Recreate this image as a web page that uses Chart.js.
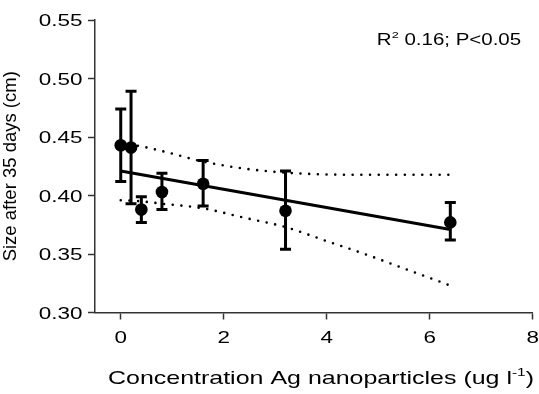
<!DOCTYPE html>
<html>
<head>
<meta charset="utf-8">
<script src="https://cdn.jsdelivr.net/npm/chart.js@4.4.1/dist/chart.umd.min.js"></script>
<style>
  html, body { margin: 0; padding: 0; background: #fff; }
  #grafico { display: block; }
</style>
</head>
<body>
<canvas id="grafico" width="539" height="394"></canvas>
<script>
// ========== DADOS ==========
const concentracoes = [0, 0.2, 0.4, 0.8, 1.6, 3.2, 6.4];
const tamanhoMedio  = [0.443, 0.441, 0.388, 0.403, 0.410, 0.387, 0.377];
const erroSuperior  = [0.474, 0.489, 0.399, 0.419, 0.430, 0.421, 0.394];
const erroInferior  = [0.412, 0.393, 0.377, 0.388, 0.391, 0.354, 0.362];

// linha de regressão
const regressaoX = [0, 6.4];
const regressaoY = [0.421, 0.371];

// intervalo de confiança (pontilhado)
const bandaX        = [0, 0.4, 0.8, 1.6, 2.4, 3.2, 4.0, 4.8, 5.6, 6.4];
const bandaSuperior = [0.445, 0.442, 0.438, 0.429, 0.423, 0.4195, 0.418, 0.4177, 0.4177, 0.4178];
const bandaInferior = [0.396, 0.395, 0.393, 0.389, 0.381, 0.373, 0.361, 0.349, 0.336, 0.323];

const ticksX = [0, 2, 4, 6, 8];
const ticksY = [0.30, 0.35, 0.40, 0.45, 0.50, 0.55];

const tituloX = [{ t: 'Concentration Ag nanoparticles (ug l' }, { t: '-1', sup: true }, { t: ')' }];
const tituloY = 'Size after 35 days (cm)';
const anotacao = [{ t: 'R' }, { t: '2', sup: true }, { t: ' 0.16; P<0.05' }];

const FONTE = "'Liberation Sans', Arial, sans-serif";
const ESTICAR = 1.32;   // o texto horizontal do original é mais largo
const COR_TEXTO = '#000';
const COR_EIXO = '#333';

// ========== TEXTO ==========
function textoEsticado(ctx, partes, x, yBase, alinhamento, tamanho, esticar) {
    ctx.save();
    let largura = 0;
    partes.forEach(p => {
        ctx.font = `${p.sup ? tamanho * 0.62 : tamanho}px ${FONTE}`;
        p.w = ctx.measureText(p.t).width;
        largura += p.w;
    });
    let x0 = x;
    if (alinhamento === 'center') x0 = x - largura * esticar / 2;
    if (alinhamento === 'right') x0 = x - largura * esticar;
    ctx.translate(x0, yBase);
    ctx.scale(esticar, 1);
    ctx.fillStyle = COR_TEXTO;
    ctx.textBaseline = 'alphabetic';
    ctx.textAlign = 'left';
    let cx = 0;
    partes.forEach(p => {
        ctx.font = `${p.sup ? tamanho * 0.62 : tamanho}px ${FONTE}`;
        ctx.fillText(p.t, cx, p.sup ? -tamanho * 0.42 : 0);
        cx += p.w;
    });
    ctx.restore();
}

const pluginTextos = {
    id: 'pluginTextos',
    afterDraw(chart) {
        const ctx = chart.ctx;
        const sx = chart.scales.x;
        const sy = chart.scales.y;
        const area = chart.chartArea;

        // rótulos do eixo y
        sy.ticks.forEach(tk => {
            const py = sy.getPixelForValue(tk.value);
            textoEsticado(ctx, [{ t: tk.value.toFixed(2) }], 82.5, py + 6.1, 'right', 17, ESTICAR);
        });
        // rótulos do eixo x
        sx.ticks.forEach(tk => {
            const px = sx.getPixelForValue(tk.value);
            textoEsticado(ctx, [{ t: String(tk.value) }], px, 343, 'center', 17, ESTICAR);
        });

        textoEsticado(ctx, tituloX, 321, 383.5, 'center', 18.5, 1.35);
        textoEsticado(ctx, anotacao, 449, 45, 'center', 16, 1.28);

        // título do eixo y (girado)
        ctx.save();
        ctx.translate(15.8, (area.top + area.bottom) / 2);
        ctx.rotate(-Math.PI / 2);
        ctx.font = `18.5px ${FONTE}`;
        ctx.fillStyle = COR_TEXTO;
        ctx.textAlign = 'center';
        ctx.textBaseline = 'alphabetic';
        ctx.fillText(tituloY, 0, 0);
        ctx.restore();
    }
};

// ========== BARRAS DE ERRO ==========
const pluginErros = {
    id: 'pluginErros',
    afterDatasetsDraw(chart) {
        const ctx = chart.ctx;
        const sx = chart.scales.x;
        const sy = chart.scales.y;
        ctx.save();
        ctx.strokeStyle = '#000';
        ctx.lineWidth = 3;
        ctx.lineCap = 'butt';
        concentracoes.forEach((c, i) => {
            const px = sx.getPixelForValue(c);
            const top = sy.getPixelForValue(erroSuperior[i]);
            const bot = sy.getPixelForValue(erroInferior[i]);
            ctx.beginPath();
            ctx.moveTo(px, top);
            ctx.lineTo(px, bot);
            ctx.moveTo(px - 5.5, top);
            ctx.lineTo(px + 5.5, top);
            ctx.moveTo(px - 5.5, bot);
            ctx.lineTo(px + 5.5, bot);
            ctx.stroke();
        });
        ctx.restore();
    }
};

// ========== GRÁFICO ==========
const pares = (xs, ys) => xs.map((x, i) => ({ x: x, y: ys[i] }));

const estiloPontilhado = {
    borderColor: '#000',
    borderWidth: 2.6,
    borderDash: [0, 8.7],
    borderCapStyle: 'round',
    pointRadius: 0,
    fill: false,
    cubicInterpolationMode: 'monotone'
};

const eixoComum = {
    border: { display: true, color: COR_EIXO, width: 1.5 },
    grid: { display: true, drawOnChartArea: false, drawTicks: true, tickLength: 7, tickWidth: 1.5, tickColor: COR_EIXO },
    ticks: { display: false }
};

new Chart(document.getElementById('grafico'), {
    type: 'line',
    data: {
        datasets: [
            Object.assign({ label: 'IC superior', data: pares(bandaX, bandaSuperior) }, estiloPontilhado),
            Object.assign({ label: 'IC inferior', data: pares(bandaX, bandaInferior) }, estiloPontilhado),
            {
                label: 'Regressão',
                data: pares(regressaoX, regressaoY),
                borderColor: '#000',
                borderWidth: 3,
                pointRadius: 0,
                fill: false
            },
            {
                label: 'Média',
                data: pares(concentracoes, tamanhoMedio),
                showLine: false,
                pointRadius: 6.3,
                pointBackgroundColor: '#000',
                pointBorderColor: '#000',
                pointBorderWidth: 0
            }
        ]
    },
    options: {
        responsive: false,
        animation: false,
        devicePixelRatio: 1,
        layout: { padding: { top: 20, right: 6, left: 0, bottom: 0 } },
        plugins: {
            legend: { display: false },
            tooltip: { enabled: false }
        },
        scales: {
            x: Object.assign({}, eixoComum, {
                type: 'linear',
                min: -0.5,
                max: 8,
                afterBuildTicks: s => { s.ticks = ticksX.map(v => ({ value: v })); },
                afterFit: s => { s.height = 81.5; }
            }),
            y: Object.assign({}, eixoComum, {
                type: 'linear',
                min: 0.30,
                max: 0.55,
                afterBuildTicks: s => { s.ticks = ticksY.map(v => ({ value: v })); },
                afterFit: s => { s.width = 95; }
            })
        }
    },
    plugins: [pluginErros, pluginTextos]
});
</script>
</body>
</html>
